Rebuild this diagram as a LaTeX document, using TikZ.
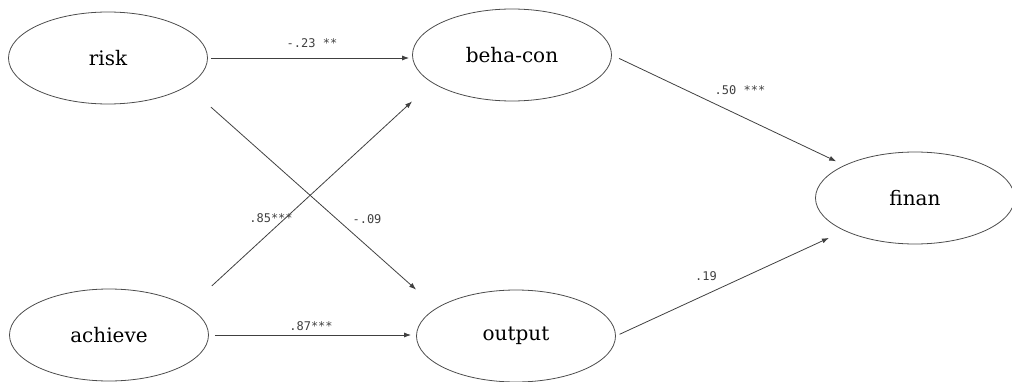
\documentclass[tikz,border=0pt]{standalone}
\usepackage{fontspec}
\setmainfont{DejaVu Serif}
\newfontfamily\pathfont{DejaVu Sans Mono}
\usetikzlibrary{shapes.geometric,arrows.meta}

\begin{document}
\begin{tikzpicture}[x=1pt,y=1pt,
  latent/.style={draw=black!70, line width=0.8, ellipse, inner sep=0pt,
    minimum width=199, minimum height=92, font=\fontsize{20}{22}\selectfont},
  path/.style={draw=black!75, line width=0.8, -{Latex[length=7pt,width=5pt]}},
  coef/.style={inner sep=0pt, text=black!75, font=\pathfont\fontsize{12}{14}\selectfont},
]
  \useasboundingbox (0,0) rectangle (1012,381);
  % latent variables
  \node[latent] (risk)    at (108,323) {risk};
  \node[latent] (achieve) at (109,46)  {achieve};
  \node[latent] (behacon) at (512,326) {beha-con};
  \node[latent] (output)  at (516,45)  {output};
  \node[latent] (finan)   at (915,183) {finan};
  % paths
  \draw[path, shorten <=3, shorten >=3] (risk.east) -- (risk.east -| behacon.west);
  \draw[path, shorten <=6, shorten >=5] (achieve.east) -- (achieve.east -| output.west);
  \draw[path, shorten <=4] (risk.east |- risk.south) -- (output.west |- output.north);
  \draw[path, shorten <=4] (achieve.east |- achieve.north) -- (behacon.west |- behacon.south);
  \draw[path, shorten <=8, shorten >=9] (behacon.east) -- (finan.north west);
  \draw[path, shorten <=4, shorten >=17] (output.east) -- (finan.south west);
  % coefficients
  \node[coef] (c1) at (312,338) {-.23 **};
  \node[coef] (c2) at (367,162) {-.09};
  \node[coef] (c3) at (271,163) {.85***};
  \node[coef] (c4) at (311,55)  {.87***};
  \node[coef] (c5) at (740,291) {.50 ***};
  \node[coef] (c6) at (706,105) {.19};
\end{tikzpicture}
\end{document}
